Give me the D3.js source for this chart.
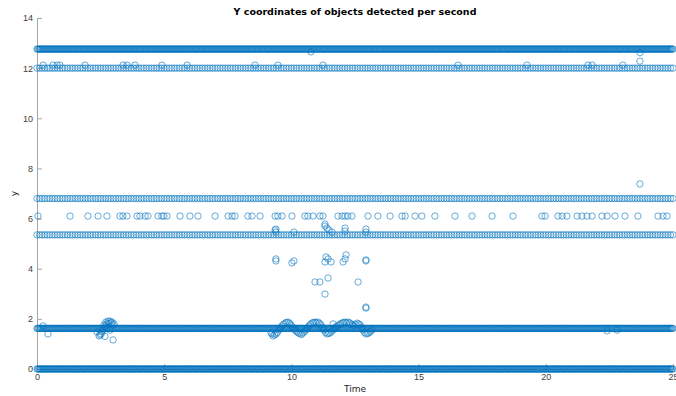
<!DOCTYPE html>
<html>
<head>
<meta charset="utf-8">
<script src="https://cdn.jsdelivr.net/npm/d3@7/dist/d3.min.js"></script>
<style>
	body { margin: 0; background: #fff; }
	svg { display: block; font-family: "DejaVu Sans", sans-serif; }
	.axis path, .axis line { stroke: #a6a6a6; }
	.axis text { fill: #404040; font-size: 9px; }
	.dot { fill: none; stroke: #0072BD; stroke-width: 0.6; }
	.title { font-size: 9.5px; font-weight: bold; fill: #000; }
	.label { font-size: 9px; fill: #262626; }
</style>
</head>
<body>
<div id="graphic"></div>
<script>
// Globals
var WIDTH = 676;
var HEIGHT = 396;

// sampling grid of the video (frames per second, seconds)
var FPS = 30;
var DURATION = 25;

// steady tracks: y level and how many frames between detections
var TRACK_LEVELS = [0, 1.62, 5.35, 6.8, 12.0, 12.76];
var TRACK_STRIDE = [1, 1, 3, 3, 3, 1];

// occasional detections at y ~ 6.1
var ROW61_T = [0.04, 1.30, 2.00, 2.40, 2.75, 3.26, 3.38, 3.54, 3.93, 4.05, 4.25, 4.36, 4.76, 4.91, 4.99, 5.11,
	5.62, 6.01, 6.33, 7.00, 7.51, 7.67, 7.78, 8.29, 8.45, 8.77, 9.36, 9.47, 9.63, 10.02, 10.53, 10.65, 10.85,
	11.12, 11.24, 11.83, 11.99, 12.11, 12.22, 12.38, 13.01, 13.40, 13.88, 14.35, 14.47, 14.86, 15.13, 15.64,
	16.43, 17.10, 17.89, 18.71, 19.85, 19.97, 20.48, 20.64, 20.83, 21.23, 21.42, 21.62, 21.82, 22.21, 22.41,
	22.72, 23.11, 23.62, 24.41, 24.61, 24.76];
var ROW61_Y = 6.1;

// occasional detections at y ~ 12.1
var ROW121_T = [0.24, 0.63, 0.79, 0.90, 1.89, 3.38, 3.54, 3.85, 4.91, 5.90, 8.57, 9.47, 11.24, 16.55, 19.26,
	21.66, 21.82, 23.03];
var ROW121_Y = 12.12;

// scattered single detections [time, y]
var OUTLIERS = [
	[23.70, 12.28], [23.70, 7.38], [10.77, 12.65], [23.70, 12.62],
	[9.39, 5.58], [9.39, 5.46], [9.36, 5.54], [10.10, 5.46], [11.32, 5.70], [11.40, 5.62], [11.48, 5.54],
	[11.60, 5.46], [12.11, 5.62], [12.11, 5.50], [12.93, 5.58], [12.93, 5.46], [11.32, 5.78],
	[9.39, 4.39], [9.39, 4.31], [10.02, 4.23], [10.10, 4.31], [11.36, 4.47], [11.44, 4.39], [11.56, 4.27],
	[11.32, 4.27], [12.03, 4.27], [12.11, 4.39], [12.15, 4.55], [12.93, 4.35], [12.93, 4.31],
	[10.93, 3.47], [11.12, 3.47], [11.44, 3.63], [11.32, 2.99], [12.62, 3.47], [12.93, 2.47], [12.93, 2.43],
	[0.43, 1.40], [0.24, 1.72], [2.99, 1.16], [11.64, 1.80], [22.41, 1.52], [22.80, 1.55]
];

// wobble of the 1.6 track [time, y]
var WOBBLE = [
	[2.36, 1.48], [2.44, 1.32], [2.52, 1.40], [2.59, 1.56], [2.63, 1.76], [2.71, 1.87], [2.79, 1.91],
	[2.87, 1.91], [2.95, 1.87], [3.03, 1.80], [2.87, 1.55], [2.75, 1.64], [2.67, 1.30], [2.48, 1.36],
	[2.83, 1.82], [2.91, 1.84], [2.55, 1.48], [2.67, 1.70], [2.75, 1.80], [2.99, 1.75],
	[9.20, 1.44], [9.28, 1.32], [9.34, 1.36], [9.40, 1.40], [9.51, 1.56], [9.63, 1.72], [9.75, 1.83],
	[9.81, 1.86], [9.87, 1.87], [9.93, 1.82], [9.98, 1.76], [10.10, 1.60], [10.22, 1.48], [10.34, 1.40],
	[10.40, 1.38], [10.46, 1.44], [10.57, 1.56], [10.69, 1.72], [10.81, 1.83], [10.87, 1.86], [10.93, 1.87],
	[11.05, 1.87], [11.10, 1.82], [11.16, 1.76], [11.28, 1.56], [11.34, 1.46], [11.40, 1.40], [11.52, 1.44],
	[11.64, 1.56], [11.75, 1.68], [11.87, 1.76], [11.99, 1.83], [12.05, 1.86], [12.11, 1.87], [12.23, 1.87],
	[12.34, 1.80], [12.46, 1.72], [12.52, 1.78], [12.58, 1.83], [12.70, 1.76], [12.81, 1.56], [12.87, 1.46],
	[12.93, 1.40], [13.05, 1.44], [13.17, 1.56],
	[9.24, 1.40], [9.45, 1.46], [9.57, 1.64], [9.69, 1.78], [10.04, 1.68], [10.16, 1.54], [10.28, 1.44],
	[10.52, 1.50], [10.63, 1.64], [10.75, 1.78], [10.99, 1.84], [11.22, 1.66], [11.46, 1.42], [11.58, 1.50],
	[11.70, 1.62], [11.81, 1.72], [11.93, 1.80], [12.17, 1.84], [12.29, 1.84], [12.40, 1.76], [12.64, 1.80],
	[12.76, 1.66], [12.99, 1.42], [13.11, 1.50]
];

var X_TICKS = [0, 5, 10, 15, 20, 25];
var Y_TICKS = [0, 2, 4, 6, 8, 10, 12, 14];

function buildPoints() {
	var points = [];
	var frames = DURATION * FPS;

	TRACK_LEVELS.forEach(function(level, i) {
		for (var f = 0; f <= frames; f += TRACK_STRIDE[i]) {
			points.push([f / FPS, level]);
		}
	});

	ROW61_T.forEach(function(t) { points.push([t, ROW61_Y]); });
	ROW121_T.forEach(function(t) { points.push([t, ROW121_Y]); });

	return points.concat(WOBBLE, OUTLIERS);
}

function render() {
	var margins = { top: 18, right: 3, bottom: 27, left: 37 };
	var chartWidth = WIDTH - margins.left - margins.right;
	var chartHeight = HEIGHT - margins.top - margins.bottom;

	var svg = d3.select('#graphic').append('svg')
		.attr('width', WIDTH)
		.attr('height', HEIGHT);

	var chart = svg.append('g')
		.attr('transform', 'translate(' + margins.left + ',' + margins.top + ')');

	var xScale = d3.scaleLinear().domain([0, 25]).range([0, chartWidth]);
	var yScale = d3.scaleLinear().domain([0, 14]).range([chartHeight, 0]);

	var xAxis = d3.axisBottom(xScale)
		.tickValues(X_TICKS)
		.tickSize(-5)
		.tickSizeOuter(0)
		.tickPadding(5);

	var yAxis = d3.axisLeft(yScale)
		.tickValues(Y_TICKS)
		.tickSize(-5)
		.tickSizeOuter(0)
		.tickPadding(4);

	chart.append('g')
		.attr('class', 'x axis')
		.attr('transform', 'translate(0,' + chartHeight + ')')
		.call(xAxis);

	chart.append('g')
		.attr('class', 'y axis')
		.call(yAxis);

	chart.append('g')
		.attr('class', 'dots')
		.selectAll('circle')
		.data(buildPoints())
		.enter()
		.append('circle')
			.attr('class', 'dot')
			.attr('r', 3.2)
			.attr('cx', function(d) { return xScale(d[0]); })
			.attr('cy', function(d) { return yScale(d[1]); });

	svg.append('text')
		.attr('class', 'title')
		.attr('x', margins.left + chartWidth / 2)
		.attr('y', 15)
		.attr('text-anchor', 'middle')
		.text('Y coordinates of objects detected per second');

	svg.append('text')
		.attr('class', 'label')
		.attr('x', margins.left + chartWidth / 2)
		.attr('y', 392)
		.attr('text-anchor', 'middle')
		.text('Time');

	svg.append('text')
		.attr('class', 'label')
		.attr('transform', 'translate(17,' + (margins.top + chartHeight / 2) + ') rotate(-90)')
		.attr('text-anchor', 'middle')
		.text('y');
}

render();
</script>
</body>
</html>
